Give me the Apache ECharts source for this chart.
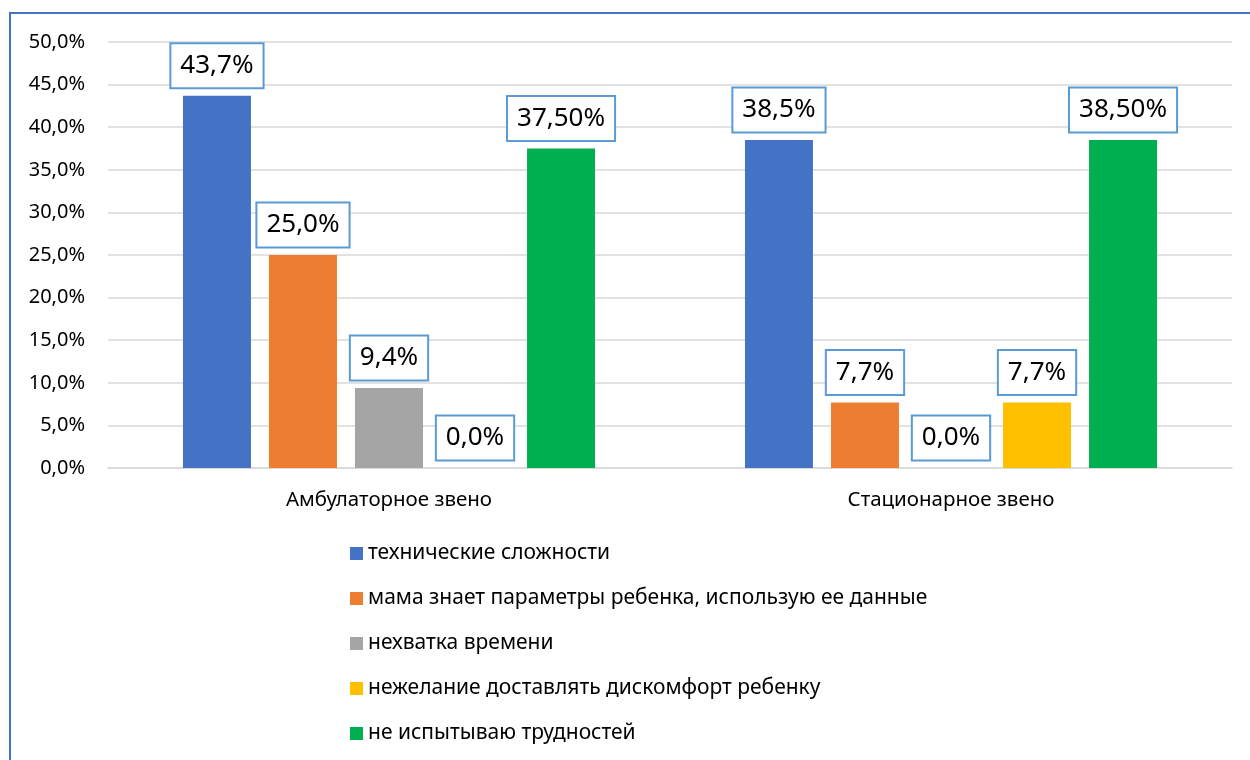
<!DOCTYPE html>
<html>
<head>
<meta charset="utf-8">
<script src="https://cdn.jsdelivr.net/npm/echarts@6/dist/echarts.min.js"></script>
<style>
	html, body { margin: 0; padding: 0; background: #fff; }
	#chart { position: absolute; left: 0; top: 0; width: 1250px; height: 760px; }
	#frame {
		position: absolute; left: 9px; top: 12px; width: 1400px; height: 900px;
		border-left: 2px solid #4472C4; border-top: 2px solid #4472C4;
		pointer-events: none;
	}
</style>
</head>
<body>
<div id="frame"></div>
<div id="chart"></div>
<script>
const categories = ['Амбулаторное звено', 'Стационарное звено'];
const seriesNames = [
	'технические сложности',
	'мама знает параметры ребенка, использую ее данные',
	'нехватка времени',
	'нежелание доставлять дискомфорт ребенку',
	'не испытываю трудностей'
];
const techValues = [43.7, 38.5];
const momValues = [25.0, 7.7];
const timeValues = [9.4, 0.0];
const discomfortValues = [0.0, 7.7];
const noTroubleValues = [37.5, 38.5];
const labelDecimals = [1, 1, 1, 1, 2];
const colors = ['#4472C4', '#ED7D31', '#A5A5A5', '#FFC000', '#00B050'];
const yTicks = { min: 0, max: 50, interval: 5 };

const allValues = [techValues, momValues, timeValues, discomfortValues, noTroubleValues];

let chart = echarts.init(document.getElementById('chart'));

let series = seriesNames.map((name, i) => ({
	name: name,
	type: 'bar',
	data: allValues[i],
	barWidth: 68,
	barGap: '26.5%',
	itemStyle: { color: colors[i] },
	label: {
		show: true,
		position: 'top',
		distance: 8.5,
		color: '#000',
		fontFamily: 'Noto Sans',
		fontSize: 26,
		lineHeight: 27,
		backgroundColor: '#fff',
		borderColor: '#5B9BD5',
		borderWidth: 2,
		padding: [8, 9, 8, 9],
		formatter: p => p.value.toFixed(labelDecimals[i]).replace('.', ',') + '%'
	}
}));

let option = {
	animation: false,
	textStyle: { fontFamily: 'Noto Sans' },
	grid: {
		left: 108,
		right: 18,
		top: 42,
		bottom: 292,
		containLabel: false,
		outerBoundsMode: 'none'
	},
	legend: {
		orient: 'vertical',
		left: 345,
		top: 538,
		height: 220,
		itemWidth: 13,
		itemHeight: 13,
		itemGap: 24,
		icon: 'rect',
		data: seriesNames,
		textStyle: { color: '#000', fontSize: 21, lineHeight: 20.5, fontFamily: 'Noto Sans' }
	},
	xAxis: {
		type: 'category',
		data: categories,
		axisLine: { lineStyle: { color: '#D9D9D9', width: 1.5 } },
		axisTick: { show: false },
		axisLabel: { color: '#000', fontSize: 20.5, margin: 22 }
	},
	yAxis: {
		type: 'value',
		min: yTicks.min,
		max: yTicks.max,
		interval: yTicks.interval,
		axisLine: { show: false },
		axisTick: { show: false },
		splitLine: { lineStyle: { color: '#D9D9D9', width: 1.5 } },
		axisLabel: {
			color: '#000',
			fontSize: 20,
			margin: 23,
			formatter: v => v.toFixed(1).replace('.', ',') + '%'
		}
	},
	series: series
};

chart.setOption(option);
</script>
</body>
</html>
